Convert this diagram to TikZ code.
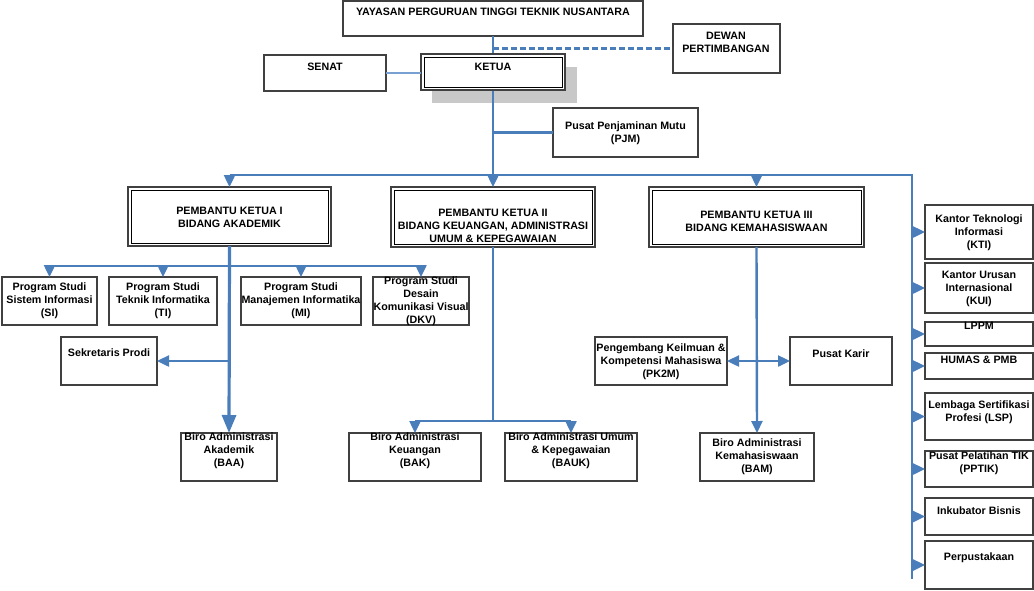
\documentclass[tikz,border=0pt]{standalone}
\usepackage{fontspec}
\setmainfont{Liberation Sans}
\usetikzlibrary{arrows.meta}
\definecolor{ln}{RGB}{74,126,187}
\definecolor{lnl}{RGB}{120,160,210}
\definecolor{bd}{RGB}{64,64,64}
\definecolor{shd}{RGB}{200,200,200}
\newcommand\bx[6][box]{\node[#1, minimum width={#4-#2}, minimum height={#5-#3}] (#6) at ({(#2+#4)/2},{(#3+#5)/2}) {};}
\newcommand\dbx[5]{\bx[dbox]{#1}{#2}{#3}{#4}{#5}%
  \draw[innerline] ([shift={(3pt,-3pt)}]#5.north west) rectangle ([shift={(-3pt,3pt)}]#5.south east);}
\newcommand\tx[4]{\node[txt] (#1) at (#2,#3) {#4};}
\begin{document}
\begin{tikzpicture}[x=1pt,y=-1pt,
  box/.style={draw=bd, line width=1.4pt, fill=white, inner sep=0pt, outer sep=0pt},
  dbox/.style={draw=bd, line width=1.9pt, fill=white, inner sep=0pt, outer sep=0pt},
  innerline/.style={draw=black, line width=0.8pt},
  shadowbox/.style={fill=shd, draw=none, inner sep=0pt, outer sep=0pt},
  txt/.style={font=\fontsize{10.7}{13}\selectfont\bfseries, align=center, inner sep=0pt, anchor=north},
  conn/.style={draw=ln, line width=2.4pt},
  arr/.style={conn, -{Triangle[length=12pt,width=11pt]}},
  bigarr/.style={draw=ln, line width=3.2pt, -{Triangle[length=18pt,width=14pt]}},
  darr/.style={conn, {Triangle[length=12pt,width=11pt]}-{Triangle[length=12pt,width=11pt]}},
]
\useasboundingbox (0,0) rectangle (1034,590);
% junction coordinates
\coordinate (bus) at (493,175);
\coordinate (rvtop) at (912,175);
\coordinate (rvbot) at (912,579);
\coordinate (pbus) at (229,266);
\coordinate (kbus) at (493,421);

% shadow of KETUA
\bx[shadowbox]{432}{67}{577}{103}{ketuashadow}

% boxes
\bx{343}{1}{643}{36}{yay}
\bx{673}{24}{780}{73}{dewan}
\bx{264}{55}{386}{91}{senat}
\bx{553}{108}{698}{157}{pjm}
\bx{2}{277}{97}{325}{si}
\bx{109}{277}{217}{325}{ti}
\bx{241}{277}{361}{325}{mi}
\bx{373}{277}{469}{325}{dkv}
\bx{61}{337}{157}{385}{sek}
\bx{181}{433}{277}{481}{baa}
\bx{349}{433}{481}{481}{bak}
\bx{505}{433}{637}{481}{bauk}
\bx{595}{337}{727}{385}{pkm}
\bx{790}{337}{892}{385}{karir}
\bx{700}{433}{814}{481}{bam}
\bx{925}{205}{1033}{259}{kti}
\bx{925}{263}{1033}{313}{kui}
\bx{925}{322}{1033}{346}{lppm}
\bx{925}{353}{1033}{379}{humas}
\bx{925}{393}{1033}{440}{lsp}
\bx{925}{451}{1033}{487}{pptik}
\bx{925}{498}{1033}{535}{inkub}
\bx{925}{541}{1033}{589}{perpus}

% connectors (drawn under the KETUA box)
\draw[conn, line width=2.8pt] (yay.south) -- (bus);
\draw[conn, dash pattern=on 6pt off 3pt] (dewan.west -| yay.south) -- (dewan.west);
\draw[conn] (pjm.west -| yay.south) -- (pjm.west);

% double boxes
\dbx{421}{54}{565}{90}{ketua}
\dbx{128}{187}{331}{246}{pka}
\dbx{391}{187}{595}{247}{pkb}
\dbx{649}{187}{864}{247}{pkc}
\draw[draw=lnl, line width=1.3pt] (senat.east) -- (senat.east -| ketua.west);

% main bus
\draw[conn] (pka.north |- bus) -- (rvtop) -- (rvbot);
\foreach \n in {pka,pkb,pkc} \draw[arr] (\n.north |- bus) -- (\n.north);
\foreach \n in {kti,kui,lppm,humas,lsp,pptik,inkub,perpus} \draw[arr] (\n.west -| rvtop) -- (\n.west);

% PK I
\draw[bigarr] (pka.south) -- (baa.north);
\draw[conn] (si.north |- pbus) -- (dkv.north |- pbus);
\foreach \n in {si,ti,mi,dkv} \draw[arr] (\n.north |- pbus) -- (\n.north);
\draw[arr] (sek.east -| pka.south) -- (sek.east);

% PK II
\draw[conn] (pkb.south) -- (kbus);
\draw[conn] (bak.north |- kbus) -- (bauk.north |- kbus);
\foreach \n in {bak,bauk} \draw[arr] (\n.north |- kbus) -- (\n.north);

% PK III
\draw[arr] (pkc.south) -- (bam.north);
\draw[darr] (pkm.east) -- (karir.west);

% texts
\tx{yayt}{493}{8}{YAYASAN PERGURUAN TINGGI TEKNIK NUSANTARA}
\tx{dewant}{726}{32}{DEWAN\\PERTIMBANGAN}
\tx{senatt}{325}{63}{SENAT}
\tx{ketuat}{493}{63}{KETUA}
\tx{pjmt}{625.5}{122}{Pusat Penjaminan Mutu\\(PJM)}
\tx{pkat}{229.5}{207}{PEMBANTU KETUA I\\BIDANG AKADEMIK}
\tx{pkbt}{493}{209}{PEMBANTU KETUA II\\BIDANG KEUANGAN, ADMINISTRASI\\UMUM \& KEPEGAWAIAN}
\tx{pkct}{756.5}{211}{PEMBANTU KETUA III\\BIDANG KEMAHASISWAAN}
\tx{sit}{49.5}{283}{Program Studi\\Sistem Informasi\\(SI)}
\tx{tit}{163}{283}{Program Studi\\Teknik Informatika\\(TI)}
\tx{mit}{301}{283}{Program Studi\\Manajemen Informatika\\(MI)}
\tx{dkvt}{421}{277}{Program Studi\\Desain\\Komunikasi Visual\\(DKV)}
\tx{sekt}{109}{349}{Sekretaris Prodi}
\tx{baat}{229}{433}{Biro Administrasi\\Akademik\\(BAA)}
\tx{bakt}{415}{433}{Biro Administrasi\\Keuangan\\(BAK)}
\tx{baukt}{571}{433}{Biro Administrasi Umum\\\& Kepegawaian\\(BAUK)}
\tx{pkmt}{661}{344}{Pengembang Keilmuan \&\\Kompetensi Mahasiswa\\(PK2M)}
\tx{karirt}{841}{350}{Pusat Karir}
\tx{bamt}{757}{439}{Biro Administrasi\\Kemahasiswaan\\(BAM)}
\tx{ktit}{979}{215}{Kantor Teknologi\\Informasi\\(KTI)}
\tx{kuit}{979}{271}{Kantor Urusan\\Internasional\\(KUI)}
\tx{lppmt}{979}{322}{LPPM}
\tx{humast}{979}{356}{HUMAS \& PMB}
\tx{lspt}{979}{401}{Lembaga Sertifikasi\\Profesi (LSP)}
\tx{pptikt}{979}{452}{Pusat Pelatihan TIK\\(PPTIK)}
\tx{inkubt}{979}{507}{Inkubator Bisnis}
\tx{perpust}{979}{553}{Perpustakaan}
\end{tikzpicture}
\end{document}
